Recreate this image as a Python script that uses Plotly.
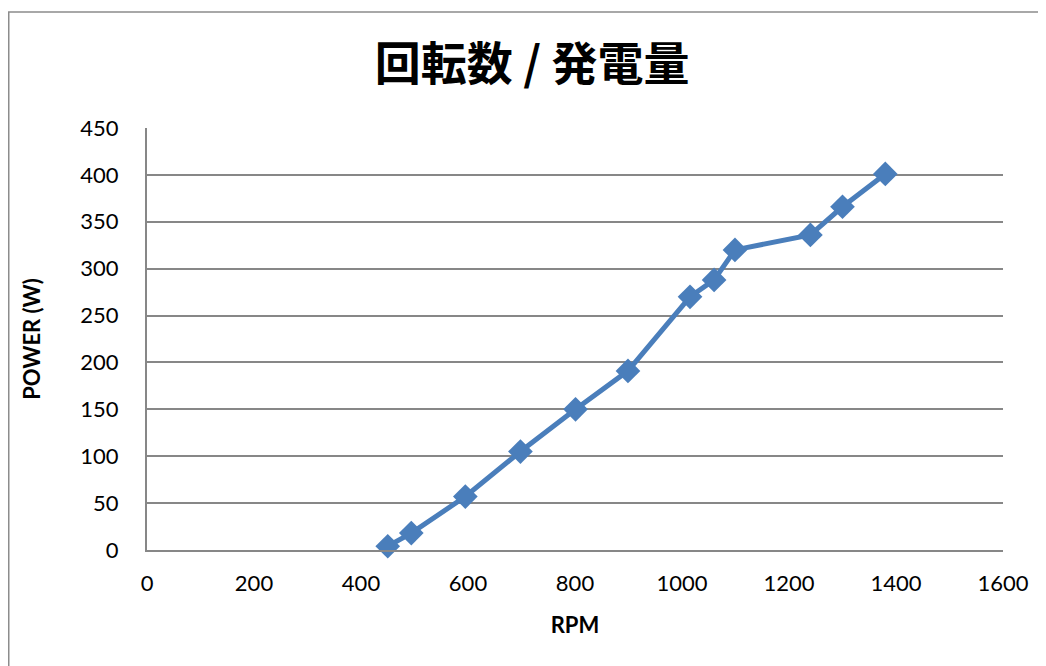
import plotly.graph_objects as go

rpm = [450, 494, 595, 698, 801, 899, 1015, 1060, 1099, 1240, 1300, 1380]
power = [4, 18, 57, 105, 150, 191, 270, 288, 320, 336, 366, 401]

title_text = "回転数 / 発電量"
x_title = "RPM"
y_title = "POWER (W)"

color = "#4a7ebb"
font_main = "Lato, 'Open Sans', 'Noto Sans', sans-serif"

fig = go.Figure()
fig.add_trace(go.Scatter(
    x=rpm, y=power, mode="lines+markers",
    line=dict(color=color, width=5),
    marker=dict(symbol="diamond", size=19, color=color),
    showlegend=False, cliponaxis=False,
))

fig.update_layout(
    width=1038, height=658,
    margin=dict(l=139, r=43, t=120, b=116),
    paper_bgcolor="white", plot_bgcolor="white",
    font=dict(family=font_main, color="black"),
    title=dict(text="<b>" + title_text + "</b>", x=0.505, xanchor="center", xref="container",
               y=0.915, yanchor="middle", yref="container",
               font=dict(family="'Noto Sans CJK JP', sans-serif", size=46, color="black")),
    xaxis=dict(range=[0, 1600], dtick=200, showgrid=False, zeroline=False,
               showline=True, linecolor="#878787", linewidth=2,
               ticks="outside", ticklen=0, ticklabelstandoff=13,
               tickfont=dict(size=22, family=font_main),
               title=dict(text="<b>" + x_title + "</b>", font=dict(size=22), standoff=22)),
    yaxis=dict(range=[0, 450], dtick=50, showgrid=True, gridcolor="#878787", gridwidth=2,
               zeroline=False, showline=True, linecolor="#878787", linewidth=2,
               ticks="outside", ticklen=0, ticklabelstandoff=22,
               tickfont=dict(size=22, family=font_main),
               title=dict(text="<b>" + y_title + "</b>", font=dict(size=22), standoff=34)),
    shapes=[dict(type="rect", xref="paper", yref="paper",
                 x0=-0.1615, x1=1.3, y0=-0.6, y1=1.275,
                 line=dict(color="#8c8c8c", width=1.5), layer="below")],
)

fig.write_html("out.html")
